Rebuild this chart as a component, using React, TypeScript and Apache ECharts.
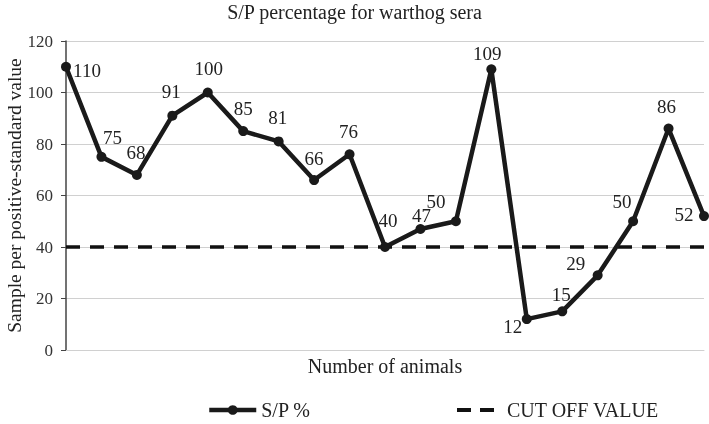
import React, { useEffect, useRef } from "react";
import * as echarts from "echarts";

const animals = ["1","2","3","4","5","6","7","8","9","10","11","12","13","14","15","16","17","18","19"];
const spValues = [110, 75, 68, 91, 100, 85, 81, 66, 76, 40, 47, 50, 109, 12, 15, 29, 50, 86, 52];
const cutOff = [40, 40, 40, 40, 40, 40, 40, 40, 40, 40, 40, 40, 40, 40, 40, 40, 40, 40, 40];
const yTicks = [0, 20, 40, 60, 80, 100, 120];

// label placement relative to each point (layout only)
const labelShift: [number, number][] = [
  [21, 4], [11, -19], [-1, -22], [-1, -24], [1, -24], [0, -23], [-1, -24], [0, -22], [-1, -23],
  [3, -27], [1, -13], [-20, -20], [-4, -16], [-14, 7], [-1, -17], [-22, -12], [-11, -20], [-2, -22], [-20, -2],
];

export default function App() {
  const ref = useRef<HTMLDivElement>(null);
  useEffect(() => {
    if (!ref.current) return;
    const chart = echarts.init(ref.current, null, { renderer: "svg" });
    const font = "'Liberation Serif', 'Times New Roman', serif";
    const data = spValues.map((v, i) => ({
      value: v,
      label: { position: "inside", offset: labelShift[i] },
    }));
    chart.setOption({
      animation: false,
      textStyle: { fontFamily: font },
      title: {
        text: "S/P percentage for warthog sera",
        left: "center",
        top: 2,
        padding: 0,
        textStyle: { fontFamily: font, fontSize: 20, fontWeight: "normal", color: "#222" },
      },
      legend: [
        {
          data: ["S/P %"],
          left: 207,
          top: 400,
          padding: 0,
          itemWidth: 47,
          itemHeight: 12,
          lineStyle: { width: 4.5, color: "#1a1a1a" },
          textStyle: { fontFamily: font, fontSize: 20, color: "#222" },
        },
        {
          data: [{ name: "CUT OFF VALUE", icon: "path://M0,0 H14 V4 H0 Z M23,0 H37 V4 H23 Z" }],
          left: 457,
          top: 400,
          padding: 0,
          itemWidth: 37,
          itemHeight: 4,
          textStyle: { fontFamily: font, fontSize: 20, color: "#222", padding: [0, 0, 0, 8] },
        },
      ],
      grid: { left: 66, right: 5, top: 41, bottom: 74, outerBoundsMode: "none", containLabel: false },
      xAxis: {
        type: "category",
        data: animals,
        boundaryGap: false,
        name: "Number of animals",
        nameLocation: "middle",
        nameGap: 6,
        nameMoveOverlap: false,
        nameTextStyle: { fontFamily: font, fontSize: 20, color: "#222" },
        axisLine: { lineStyle: { color: "#d0d0d0", width: 1 } },
        axisTick: { show: false },
        axisLabel: { show: false },
      },
      yAxis: {
        type: "value",
        min: yTicks[0],
        max: yTicks[yTicks.length - 1],
        interval: 20,
        name: "Sample per positive-standard value",
        nameLocation: "middle",
        nameGap: 42,
        nameMoveOverlap: false,
        nameTextStyle: { fontFamily: font, fontSize: 19.5, color: "#222" },
        axisLine: { show: true, lineStyle: { color: "#444", width: 1.5 } },
        axisTick: { show: true, length: 5, lineStyle: { color: "#444" } },
        axisLabel: { fontFamily: font, fontSize: 17, color: "#333", margin: 13 },
        splitLine: { lineStyle: { color: "#d0d0d0", width: 1 } },
      },
      series: [
        {
          name: "S/P %",
          type: "line",
          data,
          symbol: "circle",
          symbolSize: 10,
          z: 3,
          lineStyle: { color: "#1a1a1a", width: 4.5 },
          itemStyle: { color: "#1a1a1a" },
          label: { show: true, fontFamily: font, fontSize: 19, color: "#222" },
        },
        {
          name: "CUT OFF VALUE",
          type: "line",
          data: cutOff,
          symbol: "none",
          z: 2,
          lineStyle: { color: "#111", width: 3.5, type: [14, 10] },
          itemStyle: { color: "#111" },
        },
      ],
    });
    return () => chart.dispose();
  }, []);
  return <div ref={ref} style={{ position: "fixed", left: 0, top: 0, width: 709, height: 424 }} />;
}
